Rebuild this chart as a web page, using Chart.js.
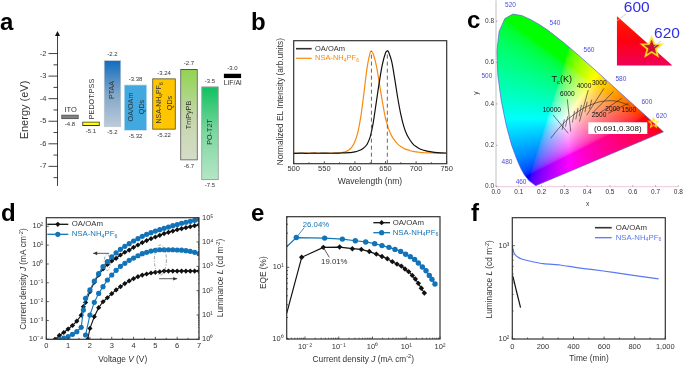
<!DOCTYPE html>
<html>
<head>
<meta charset="utf-8">
<title>Device panels</title>
<script src="https://cdn.jsdelivr.net/npm/chart.js@4/dist/chart.umd.min.js"></script>
<style>
  html, body { margin: 0; padding: 0; background: #fff; }
  #page { position: relative; width: 685px; height: 365px; overflow: hidden; }
  #page canvas { position: absolute; left: 0; top: 0; }
</style>
</head>
<body>
<div id="page"></div>
<script>
/* ==================== Panel a: energy levels ==================== */
const bandNames = ['ITO', 'PEDOT:PSS', 'PTAA', 'OA/OAm QDs', 'NSA-NH4PF6 QDs', 'TmPyPB', 'PO-T2T', 'LiF/Al'];
const bandTop = [-4.72, -5.03, -2.3, -3.37, -3.11, -2.7, -3.46, -2.9];
const bandBottom = [-4.9, -5.2, -5.25, -5.42, -5.36, -6.73, -7.6, -3.08];
const bandTopLabels = ['', '', '-2.2', '-3.38', '-3.24', '-2.7', '-3.5', '-3.0'];
const bandBottomLabels = ['-4.8', '-5.1', '-5.2', '-5.32', '-5.22', '-6.7', '-7.5', ''];

/* ==================== Panel b: EL spectra ==================== */
const elWavelengths = [500, 510, 520, 530, 540, 550, 560, 570, 575, 580, 585, 590, 595, 600, 605, 610, 615, 620, 625, 627, 630, 635, 640, 645, 650, 653, 655, 660, 665, 670, 675, 680, 685, 690, 695, 700, 705, 710, 715, 720, 730, 740, 750];
const elOaOam = [-0.002, 0.002, -0.001, 0.001, 0, 0.001, 0, 0.001, 0.002, 0.003, 0.004, 0.006, 0.009, 0.014, 0.022, 0.034, 0.055, 0.088, 0.16, 0.21, 0.3, 0.5, 0.7, 0.87, 0.98, 1, 0.99, 0.9, 0.73, 0.54, 0.38, 0.26, 0.18, 0.13, 0.09, 0.065, 0.047, 0.034, 0.025, 0.018, 0.009, 0.004, 0.002];
const elNsa = [0.002, -0.002, 0.002, 0, 0.001, -0.001, 0.001, 0.002, 0.004, 0.008, 0.016, 0.032, 0.06, 0.115, 0.21, 0.37, 0.6, 0.84, 0.985, 1, 0.97, 0.86, 0.68, 0.5, 0.34, 0.28, 0.24, 0.17, 0.125, 0.09, 0.065, 0.048, 0.035, 0.026, 0.018, 0.013, 0.01, 0.007, 0.005, 0.004, 0.002, 0.001, 0];
const elPeaks = [627, 653];

/* ==================== Panel c: CIE 1931 ==================== */
const locusX = [0.1741, 0.144, 0.1241, 0.1096, 0.0913, 0.0687, 0.0454, 0.0235, 0.0082, 0.0039, 0.0139, 0.0389, 0.0743, 0.1142, 0.1547, 0.1929, 0.2296, 0.3016, 0.3731, 0.4441, 0.5125, 0.5752, 0.627, 0.6658, 0.6915, 0.7079, 0.726, 0.7347, 0.1741];
const locusY = [0.005, 0.0297, 0.0578, 0.0868, 0.1327, 0.2007, 0.295, 0.4127, 0.5384, 0.6548, 0.7502, 0.812, 0.8338, 0.8262, 0.8059, 0.7816, 0.7543, 0.6923, 0.6245, 0.5547, 0.4866, 0.4242, 0.3725, 0.334, 0.3083, 0.292, 0.274, 0.2653, 0.005];
const planckX = [0.24, 0.2807, 0.3221, 0.3804, 0.4369, 0.477, 0.5267, 0.5857];
const planckY = [0.234, 0.2884, 0.3318, 0.3768, 0.4041, 0.4137, 0.4133, 0.3931];
const isothermX = [[0.251, 0.317], [0.313, 0.328], [0.405, 0.366], [0.474, 0.398], [0.515, 0.423], [0.552, 0.456], [0.581, 0.493]];
const isothermY = [[0.346, 0.258], [0.422, 0.266], [0.467, 0.314], [0.475, 0.346], [0.459, 0.355], [0.427, 0.357], [0.403, 0.355]];
const planckTickX = [[0.29, 0.3], [0.305, 0.315], [0.335, 0.345], [0.35, 0.36], [0.365, 0.375], [0.39, 0.4], [0.41, 0.42]];
const planckTickY = [[0.275, 0.325], [0.29, 0.34], [0.31, 0.365], [0.325, 0.38], [0.34, 0.395], [0.36, 0.41], [0.375, 0.42]];
const tcLabels = ['10000', '6000', '4000', '3000', '2500', '2000', '1500'];
const wavelengthLabels = ['520', '540', '560', '580', '600', '620', '500', '480', '460'];
const cieCoordinate = [0.691, 0.308];

/* ==================== Panel d: J-V-L ==================== */
const oaVoltageJ = [0.4, 0.6, 0.8, 1, 1.2, 1.4, 1.6, 1.7, 1.8, 2, 2.2, 2.4, 2.6, 2.8, 3, 3.2, 3.4, 3.6, 3.8, 4, 4.2, 4.4, 4.6, 4.8, 5, 5.2, 5.4, 5.6, 5.8, 6, 6.2, 6.4, 6.6, 6.8, 7];
const oaCurrent = [1e-4, 1.6e-4, 2.3e-4, 3.5e-4, 5.4e-4, 9.3e-4, 1.9e-3, 5.4e-3, 9.1e-3, 3.4e-2, 0.107, 0.26, 0.54, 0.95, 1.45, 2, 3, 4.2, 5.5, 7.7, 10.2, 13.6, 17.4, 22, 27, 33, 41, 48, 56, 66, 75, 85, 96, 108, 122];
const nsaVoltageJ = [0.6, 0.8, 1, 1.2, 1.4, 1.6, 1.7, 1.8, 2, 2.2, 2.4, 2.6, 2.8, 3, 3.2, 3.4, 3.6, 3.8, 4, 4.2, 4.4, 4.6, 4.8, 5, 5.2, 5.4, 5.6, 5.8, 6, 6.2, 6.4, 6.6, 6.8, 7];
const nsaCurrent = [1e-4, 1.15e-4, 1.39e-4, 1.84e-4, 2.55e-4, 4.3e-4, 3.6e-3, 1.5e-2, 4.2e-2, 0.125, 0.307, 0.72, 1.33, 2.36, 3.84, 6, 8.7, 12, 16.6, 22, 29.5, 37.6, 46, 56, 66, 78, 91, 108, 123, 145, 164, 184, 208, 234];
const oaVoltageL = [1.9, 2, 2.2, 2.4, 2.6, 2.8, 3, 3.2, 3.4, 3.6, 3.8, 4, 4.2, 4.4, 4.6, 4.8, 5, 5.2, 5.4, 5.6, 5.8, 6, 6.2, 6.4, 6.6, 6.8, 7];
const oaLuminance = [1, 2.8, 8.5, 20, 35, 51, 75, 107, 146, 195, 251, 310, 376, 437, 484, 532, 565, 600, 636, 638, 640, 640, 640, 640, 640, 640, 640];
const nsaVoltageL = [1.8, 2, 2.2, 2.4, 2.6, 2.8, 3, 3.2, 3.4, 3.6, 3.8, 4, 4.2, 4.4, 4.6, 4.8, 5, 5.2, 5.4, 5.6, 5.8, 6, 6.2, 6.4, 6.6, 6.8, 7];
const nsaLuminance = [1.5, 10, 33, 77, 146, 274, 440, 685, 1000, 1330, 1770, 2190, 2730, 3330, 3760, 4260, 4570, 4800, 4800, 4800, 4800, 4700, 4600, 4400, 4150, 3760, 3330];

/* ==================== Panel e: EQE ==================== */
const oaEqeJ = [2.87e-3, 7.97e-3, 0.0349, 0.106, 0.253, 0.467, 0.805, 1.3, 1.91, 2.75, 3.87, 5.32, 7.14, 9.18, 11.8, 15.1, 18.6, 22.8, 28, 34.4];
const oaEqe = [2.28, 13.8, 19.01, 19.2, 18.2, 17.8, 16.6, 15.3, 14.2, 13.2, 12, 11.1, 10.4, 9.48, 8.71, 7.72, 6.87, 5.98, 5.1, 4.38];
const nsaEqeJ = [2.87e-3, 5.53e-3, 0.0383, 0.128, 0.31, 0.628, 1.16, 1.91, 3.08, 4.64, 6.84, 9.62, 13.2, 17.7, 22.8, 30, 38.5, 48.3, 57.9, 71];
const nsaEqe = [19.4, 26.04, 25.6, 24.8, 23.5, 22.6, 21.4, 20.1, 19, 17.8, 16.7, 15.2, 14.1, 12.9, 11.5, 10.1, 8.98, 7.72, 6.8, 5.85];

/* ==================== Panel f: lifetime ==================== */
const oaTime = [0, 6, 28, 54];
const oaDecay = [485, 454, 321, 217];
const nsaTime = [0, 6.5, 17, 33, 61, 105, 203, 312, 410, 529, 660, 791, 956];
const nsaDecay = [1000, 877, 807, 762, 720, 690, 641, 621, 586, 553, 518, 481, 440];

/* ==================== Layout and styling ==================== */
const W = 685;
const H = 365;
const FONT = '"Liberation Sans", Arial, sans-serif';
const TEXT = '#333333';
const OA_BLACK = '#111111';
const NSA_BLUE = '#1274b8';
const NSA_ORANGE = '#f98a10';
const LIFE_BLUE = '#5a78f5';
const WL_BLUE = '#4a4ae0';

const AREA_A = { l: 57.5, t: 31, r: 245, b: 186 };
const AREA_B = { l: 293.7, t: 40.7, r: 446.7, b: 163.7 };
const AREA_C = { l: 496, t: 0.4, r: 678.3, b: 186.7 };
const AREA_D = { l: 46.3, t: 217.7, r: 199, b: 339.3 };
const AREA_E = { l: 286.7, t: 216.7, r: 440, b: 339 };
const AREA_F = { l: 512.3, t: 217.7, r: 665.3, b: 339 };

// horizontal placement of the energy bands, from the axis line
const BAND_CENTRES = [12.5, 33.5, 55, 78, 106.5, 131.5, 152.5, 175];
const BAND_WIDTHS = [17, 17, 17, 23, 23, 17, 17, 17];
const BAND_STROKES = ['#555555', '#333333', '#c4ccd4', '#d6e6f0', '#5a4a10', '#555555', '#8a9a90', '#000000'];
const BAND_FILLS = [
    ['#808080', '#808080'],
    ['#ffff00', '#ffff00'],
    ['#0f6cc0', '#7fa6c8', '#bccbda'],
    ['#41a9e0', '#41a9e0'],
    ['#ffc600', '#ffc600'],
    ['#8fd44f', '#c3d6a8', '#d6dcc8'],
    ['#0fc060', '#7dd8a0', '#b6e6c6'],
    ['#000000', '#000000']
];

/* ==================== Helpers ==================== */
function pairs(xs, ys) {
    return xs.map((x, i) => ({ x, y: ys[i] }));
}

function superscript(n) {
    const map = { '-': '\u207b', 0: '\u2070', 1: '\u00b9', 2: '\u00b2', 3: '\u00b3', 4: '\u2074', 5: '\u2075' };
    return String(n).split('').map(c => map[c]).join('');
}

function decadeLabel(value) {
    const e = Math.log10(value);
    return Math.abs(e - Math.round(e)) < 1e-6 ? '10' + superscript(Math.round(e)) : '';
}

function logMinors(fromExp, toExp) {
    const out = [];
    for (let e = fromExp; e <= toExp; e++) {
        for (let m = 2; m <= 9; m++) out.push(m * Math.pow(10, e));
    }
    return out;
}

function decades(fromExp, toExp) {
    const out = [];
    for (let e = fromExp; e <= toExp; e++) out.push(Math.pow(10, e));
    return out;
}

function range(from, to, step) {
    const out = [];
    for (let v = from; v <= to + 1e-9; v += step) out.push(v);
    return out;
}

function makeCanvas() {
    const canvas = document.createElement('canvas');
    canvas.width = W;
    canvas.height = H;
    document.getElementById('page').appendChild(canvas);
    return canvas;
}

function baseOptions(area, hasBottom, hasRight) {
    return {
        responsive: false,
        animation: false,
        events: [],
        layout: {
            autoPadding: false,
            padding: {
                left: 0,
                top: area.t,
                right: hasRight ? 0 : W - area.r,
                bottom: hasBottom ? 0 : H - area.b
            }
        },
        plugins: { legend: { display: false }, tooltip: { enabled: false } }
    };
}

function clearScalePadding(s) {
    s.paddingTop = 0;
    s.paddingBottom = 0;
    s.paddingLeft = 0;
    s.paddingRight = 0;
}

// axes get the whole margin as their box, so the plot area lands on the given rectangle
function leftAxis(area, extra) {
    return Object.assign({
        position: 'left',
        grid: { display: false, drawTicks: false },
        border: { display: false },
        afterFit: s => { s.width = area.l; clearScalePadding(s); }
    }, extra);
}

function rightAxis(area, extra) {
    return Object.assign({
        position: 'right',
        grid: { display: false, drawTicks: false },
        border: { display: false },
        afterFit: s => { s.width = W - area.r; clearScalePadding(s); }
    }, extra);
}

function bottomAxis(area, extra) {
    return Object.assign({
        position: 'bottom',
        grid: { display: false, drawTicks: false },
        border: { display: false },
        afterFit: s => { s.height = H - area.b; clearScalePadding(s); }
    }, extra);
}

function fontOf(size, style) {
    return (style === 'i' ? 'italic ' : '') + (style === 'b' ? 'bold ' : '') + size + 'px ' + FONT;
}

// text with italic, superscript and subscript runs
function richText(ctx, parts, x, y, opts) {
    const o = Object.assign({ size: 8.5, color: TEXT, align: 'center', rotate: 0 }, opts);
    const runs = parts.map(p => (typeof p === 'string' ? [p, ''] : p));
    let total = 0;
    const widths = runs.map(r => {
        const small = r[1] === 'sup' || r[1] === 'sub';
        ctx.font = fontOf(small ? o.size * 0.68 : o.size, r[1]);
        const w = ctx.measureText(r[0]).width;
        total += w;
        return w;
    });
    ctx.save();
    ctx.translate(x, y);
    ctx.rotate(o.rotate);
    ctx.fillStyle = o.color;
    ctx.textBaseline = 'middle';
    ctx.textAlign = 'left';
    let cx = o.align === 'center' ? -total / 2 : (o.align === 'right' ? -total : 0);
    runs.forEach((r, i) => {
        const small = r[1] === 'sup' || r[1] === 'sub';
        ctx.font = fontOf(small ? o.size * 0.68 : o.size, r[1]);
        const dy = r[1] === 'sup' ? -o.size * 0.3 : (r[1] === 'sub' ? o.size * 0.28 : 0);
        ctx.fillText(r[0], cx, dy);
        cx += widths[i];
    });
    ctx.restore();
}

function drawFrame(ctx, chart, color, width) {
    const a = chart.chartArea;
    ctx.save();
    ctx.strokeStyle = color;
    ctx.lineWidth = width;
    ctx.strokeRect(a.left, a.top, a.right - a.left, a.bottom - a.top);
    ctx.restore();
}

// tick marks pointing into the plot (negative length points outward)
function drawTicks(ctx, scale, values, length, color) {
    ctx.save();
    ctx.strokeStyle = color || TEXT;
    ctx.lineWidth = 0.8;
    ctx.beginPath();
    values.forEach(v => {
        if (v < scale.min || v > scale.max) return;
        const p = scale.getPixelForValue(v);
        if (scale.axis === 'x') {
            ctx.moveTo(p, scale.top);
            ctx.lineTo(p, scale.top - length);
        } else if (scale.position === 'right') {
            ctx.moveTo(scale.left, p);
            ctx.lineTo(scale.left - length, p);
        } else {
            ctx.moveTo(scale.right, p);
            ctx.lineTo(scale.right + length, p);
        }
    });
    ctx.stroke();
    ctx.restore();
}

function marker(ctx, kind, x, y, r, color) {
    ctx.fillStyle = color;
    ctx.beginPath();
    if (kind === 'diamond') {
        ctx.moveTo(x, y - r);
        ctx.lineTo(x + r, y);
        ctx.lineTo(x, y + r);
        ctx.lineTo(x - r, y);
        ctx.closePath();
    } else if (kind === 'circle') {
        ctx.arc(x, y, r, 0, Math.PI * 2);
    }
    ctx.fill();
}

function legendRow(ctx, row) {
    ctx.save();
    ctx.strokeStyle = row.color;
    ctx.lineWidth = row.lineWidth || 1.3;
    ctx.beginPath();
    ctx.moveTo(row.x1, row.y);
    ctx.lineTo(row.x2, row.y);
    ctx.stroke();
    if (row.marker) marker(ctx, row.marker, (row.x1 + row.x2) / 2, row.y, 2.6, row.color);
    ctx.restore();
    richText(ctx, row.text, row.textX, row.y, { size: row.size || 8.3, color: row.textColor, align: 'left' });
}

function leader(ctx, x1, y1, x2, y2, color) {
    ctx.save();
    ctx.strokeStyle = color;
    ctx.lineWidth = 0.8;
    ctx.beginPath();
    ctx.moveTo(x1, y1);
    ctx.lineTo(x2, y2);
    ctx.stroke();
    ctx.restore();
}

function arrow(ctx, x1, x2, y, color) {
    leader(ctx, x1, y, x2, y, color);
    const dir = x2 > x1 ? 1 : -1;
    ctx.fillStyle = color;
    ctx.beginPath();
    ctx.moveTo(x2, y);
    ctx.lineTo(x2 - dir * 4, y - 1.8);
    ctx.lineTo(x2 - dir * 4, y + 1.8);
    ctx.closePath();
    ctx.fill();
}

function dashedEllipse(ctx, x, y, rx, ry) {
    ctx.save();
    ctx.strokeStyle = '#777777';
    ctx.lineWidth = 0.7;
    ctx.setLineDash([3, 1.5, 1, 1.5]);
    ctx.beginPath();
    ctx.ellipse(x, y, rx, ry, 0, 0, Math.PI * 2);
    ctx.stroke();
    ctx.restore();
}

function panelLetter(ctx, letter, x, baseline) {
    ctx.save();
    ctx.fillStyle = '#000';
    ctx.font = 'bold 24px ' + FONT;
    ctx.textAlign = 'left';
    ctx.textBaseline = 'alphabetic';
    ctx.fillText(letter, x, baseline);
    ctx.restore();
}

function starImage(outer, lineWidth, fill) {
    const size = Math.ceil(outer * 2 + lineWidth * 2 + 2);
    const c = document.createElement('canvas');
    c.width = size;
    c.height = size;
    const ctx = c.getContext('2d');
    ctx.translate(size / 2, size / 2);
    ctx.beginPath();
    for (let i = 0; i < 10; i++) {
        const r = i % 2 === 0 ? outer : outer * 0.42;
        const t = -Math.PI / 2 + i * Math.PI / 5;
        ctx[i === 0 ? 'moveTo' : 'lineTo'](r * Math.cos(t), r * Math.sin(t));
    }
    ctx.closePath();
    if (fill) {
        ctx.fillStyle = fill;
        ctx.fill();
    }
    ctx.strokeStyle = '#ffe81a';
    ctx.lineWidth = lineWidth;
    ctx.stroke();
    return c;
}

/* ==================== Panel a ==================== */
function createBandChart() {
    const bandGradient = (ctx, i) => {
        const stops = BAND_FILLS[i];
        const y = ctx.chart.scales.y;
        if (!ctx.chart.chartArea || !y) return stops[0];
        const g = ctx.chart.ctx.createLinearGradient(0, y.getPixelForValue(bandTop[i]), 0, y.getPixelForValue(bandBottom[i]));
        stops.forEach((s, k) => g.addColorStop(k / (stops.length - 1), s));
        return g;
    };

    const options = baseOptions(AREA_A, false, false);
    options.scales = {
        x: { type: 'linear', display: false, stacked: true, offset: false, min: 0, max: AREA_A.r - AREA_A.l },
        y: leftAxis(AREA_A, {
            type: 'linear',
            min: -7.87,
            max: -1,
            ticks: {
                color: TEXT,
                font: { family: FONT, size: 7.5 },
                padding: 11,
                stepSize: 1,
                autoSkip: false,
                callback: v => (Number.isInteger(v) && v < -1.5 ? String(v) : '')
            }
        })
    };

    new Chart(makeCanvas(), {
        type: 'bar',
        data: {
            datasets: bandNames.map((name, i) => ({
                label: name,
                data: [{ x: BAND_CENTRES[i], y: [bandBottom[i], bandTop[i]] }],
                barThickness: BAND_WIDTHS[i],
                backgroundColor: ctx => bandGradient(ctx, i),
                borderColor: BAND_STROKES[i],
                borderWidth: 1,
                borderSkipped: false
            }))
        },
        options,
        plugins: [{
            id: 'bandDecor',
            afterDraw(chart) {
                const ctx = chart.ctx;
                const x = chart.scales.x;
                const y = chart.scales.y;
                const ax = chart.chartArea.left;

                // axis with arrow head
                ctx.fillStyle = '#111';
                ctx.beginPath();
                ctx.moveTo(ax, chart.chartArea.top);
                ctx.lineTo(ax - 2.5, chart.chartArea.top + 5);
                ctx.lineTo(ax + 2.5, chart.chartArea.top + 5);
                ctx.closePath();
                ctx.fill();
                leader(ctx, ax, chart.chartArea.top + 1, ax, chart.chartArea.bottom, '#111');
                drawTicks(ctx, y, range(-7, -2, 1), -9, '#111');
                drawTicks(ctx, y, range(-7.5, -2.5, 1), -4, '#111');

                // level values
                bandNames.forEach((name, i) => {
                    const cx = x.getPixelForValue(BAND_CENTRES[i]);
                    if (bandTopLabels[i]) {
                        richText(ctx, [bandTopLabels[i]], cx, y.getPixelForValue(bandTop[i]) - 5.6, { size: 6 });
                    }
                    if (bandBottomLabels[i]) {
                        richText(ctx, [bandBottomLabels[i]], cx, y.getPixelForValue(bandBottom[i]) + 5.6, { size: 6 });
                    }
                });

                // material names
                const up = -Math.PI / 2;
                richText(ctx, ['ITO'], 70.7, 110, { size: 7.5 });
                richText(ctx, ['PEDOT:PSS'], 92, 99, { size: 7.2, rotate: up });
                richText(ctx, ['PTAA'], 112.3, 90, { size: 7.2, rotate: up });
                richText(ctx, ['OA/OAm'], 130.7, 107, { size: 7.2, rotate: up });
                richText(ctx, ['QDs'], 141.7, 107, { size: 7.2, rotate: up });
                richText(ctx, ['NSA-NH', ['4', 'sub'], 'PF', ['6', 'sub']], 159.3, 103, { size: 7, rotate: up });
                richText(ctx, ['QDs'], 170, 103, { size: 7.2, rotate: up });
                richText(ctx, ['TmPyPB'], 189.3, 115, { size: 7.2, rotate: up });
                richText(ctx, ['PO-T2T'], 210, 132, { size: 7.2, rotate: up });
                richText(ctx, ['LiF/Al'], 232.7, 83, { size: 7 });

                richText(ctx, ['Energy (eV)'], 25, 110, { size: 11, rotate: up });
                panelLetter(ctx, 'a', 0, 30);
            }
        }]
    });
}

/* ==================== Panel b ==================== */
function createSpectraChart() {
    const options = baseOptions(AREA_B, true, false);
    options.scales = {
        x: bottomAxis(AREA_B, { type: 'linear', min: 500, max: 750, ticks: { color: TEXT, font: { family: FONT, size: 7.5 }, padding: 1, stepSize: 50, autoSkip: false, maxRotation: 0 } }),
        y: leftAxis(AREA_B, { type: 'linear', min: -0.102, max: 1.1, ticks: { display: false } })
    };

    const peakLines = elPeaks.map(p => ({
        data: [{ x: p, y: -0.102 }, { x: p, y: 1 }],
        showLine: true,
        borderColor: '#555555',
        borderWidth: 0.9,
        borderDash: [4, 3],
        pointRadius: 0
    }));

    new Chart(makeCanvas(), {
        type: 'scatter',
        data: {
            datasets: peakLines.concat([
                { label: 'OA/OAm', data: pairs(elWavelengths, elOaOam), showLine: true, tension: 0.3, borderColor: OA_BLACK, borderWidth: 1.2, pointRadius: 0 },
                { label: 'NSA-NH4PF6', data: pairs(elWavelengths, elNsa), showLine: true, tension: 0.3, borderColor: NSA_ORANGE, borderWidth: 1.2, pointRadius: 0 }
            ])
        },
        options,
        plugins: [{
            id: 'spectraDecor',
            afterDraw(chart) {
                const ctx = chart.ctx;
                drawFrame(ctx, chart, '#333333', 1.2);
                drawTicks(ctx, chart.scales.x, range(500, 750, 50), 2.5);
                drawTicks(ctx, chart.scales.x, range(525, 725, 50), 1.5);
                legendRow(ctx, { x1: 296, x2: 311.7, y: 48.7, color: '#333333', lineWidth: 1.6, text: ['OA/OAm'], textX: 315, textColor: TEXT, size: 7.5 });
                legendRow(ctx, { x1: 296, x2: 311.7, y: 58.3, color: NSA_ORANGE, lineWidth: 1.2, text: ['NSA-NH', ['4', 'sub'], 'PF', ['6', 'sub']], textX: 315, textColor: NSA_ORANGE, size: 7.5 });
                richText(ctx, ['Wavelength (nm)'], 370, 181.3, { size: 8.5 });
                richText(ctx, ['Normalized EL Intensity (arb.units)'], 281, 101.7, { size: 8.3, rotate: -Math.PI / 2 });
                panelLetter(ctx, 'b', 251, 30);
            }
        }]
    });
}

/* ==================== Panel c ==================== */
function chromaticityColor(x, y) {
    const X = x / y;
    const Z = (1 - x - y) / y;
    let r = 3.2406 * X - 1.5372 - 0.4986 * Z;
    let g = -0.9689 * X + 1.8758 + 0.0415 * Z;
    let b = 0.0557 * X - 0.204 + 1.057 * Z;
    r = Math.max(r, 0);
    g = Math.max(g, 0);
    b = Math.max(b, 0);
    const m = Math.max(r, g, b) || 1;
    return [r, g, b].map(c => 255 * Math.pow(c / m, 1 / 2.2));
}

function paintHorseshoe(chart) {
    const a = chart.chartArea;
    const x = chart.scales.x;
    const y = chart.scales.y;
    const w = Math.ceil(a.right - a.left);
    const h = Math.ceil(a.bottom - a.top);
    const off = document.createElement('canvas');
    off.width = w;
    off.height = h;
    const octx = off.getContext('2d');
    const img = octx.createImageData(w, h);
    for (let j = 0; j < h; j++) {
        const vy = Math.max(y.getValueForPixel(a.top + j + 0.5), 0.001);
        for (let i = 0; i < w; i++) {
            const vx = x.getValueForPixel(a.left + i + 0.5);
            const c = chromaticityColor(vx, vy);
            const k = (j * w + i) * 4;
            img.data[k] = c[0];
            img.data[k + 1] = c[1];
            img.data[k + 2] = c[2];
            img.data[k + 3] = 255;
        }
    }
    octx.putImageData(img, 0, 0);

    const ctx = chart.ctx;
    ctx.save();
    ctx.beginPath();
    locusX.forEach((lx, i) => {
        ctx[i === 0 ? 'moveTo' : 'lineTo'](x.getPixelForValue(lx), y.getPixelForValue(locusY[i]));
    });
    ctx.closePath();
    ctx.clip();
    ctx.drawImage(off, a.left, a.top);
    ctx.restore();
}

function createCieChart() {
    const options = baseOptions(AREA_C, true, false);
    const tickFormatY = v => (Math.round(v * 10) % 2 === 0 && v <= 0.8 + 1e-6 ? v.toFixed(1) : '');
    const tickFormatX = v => v.toFixed(1);
    options.scales = {
        x: bottomAxis(AREA_C, { type: 'linear', min: 0, max: 0.8, ticks: { color: TEXT, font: { family: FONT, size: 6.5 }, padding: 2, stepSize: 0.1, autoSkip: false, maxRotation: 0, callback: tickFormatX } }),
        y: leftAxis(AREA_C, { type: 'linear', min: 0, max: 0.9, ticks: { color: TEXT, font: { family: FONT, size: 6.5 }, padding: 2, stepSize: 0.2, autoSkip: false, callback: tickFormatY } })
    };

    const thinLine = (xs, ys) => ({
        data: pairs(xs, ys),
        showLine: true,
        borderColor: '#222222',
        borderWidth: 0.6,
        pointRadius: 0
    });

    // earlier datasets paint last, so the stars go first
    const datasets = [];
    datasets.push({ data: [{ x: cieCoordinate[0], y: cieCoordinate[1] }], pointStyle: starImage(5, 1.1, null), pointRadius: 5, clip: false });
    datasets.push({ data: [{ x: 0.683, y: 0.672 }], pointStyle: starImage(10.5, 1.6, '#c81030'), pointRadius: 10, clip: false });

    // zoomed inset of the red corner
    datasets.push({
        data: [{ x: 0.53, y: 0.825 }, { x: 0.774, y: 0.585 }],
        showLine: true,
        borderWidth: 0,
        pointRadius: 0,
        fill: { value: 0.585 },
        backgroundColor: ctx => {
            const area = ctx.chart.chartArea;
            if (!area) return '#ff0000';
            const g = ctx.chart.ctx.createLinearGradient(0, 16, 0, 65.3);
            g.addColorStop(0, '#ff2000');
            g.addColorStop(0.5, '#ff0010');
            g.addColorStop(1, '#f00058');
            return g;
        },
        clip: false
    });
    datasets.push(Object.assign(thinLine(planckX, planckY), { tension: 0.4 }));
    isothermX.forEach((xs, i) => datasets.push(thinLine(xs, isothermY[i])));
    planckTickX.forEach((xs, i) => datasets.push(thinLine(xs, planckTickY[i])));
    datasets.push({ data: pairs(locusX, locusY), showLine: true, borderColor: '#5a5ad0', borderWidth: 0.7, pointRadius: 0 });

    new Chart(makeCanvas(), {
        type: 'scatter',
        data: { datasets },
        options,
        plugins: [{
            id: 'cieDecor',
            beforeDatasetsDraw(chart) {
                paintHorseshoe(chart);
            },
            afterDraw(chart) {
                const ctx = chart.ctx;
                const x = chart.scales.x;
                const y = chart.scales.y;
                const a = chart.chartArea;

                leader(ctx, a.left, a.top, a.left, a.bottom, '#b0b0b0');
                leader(ctx, a.left, a.bottom, a.right, a.bottom, '#e8b8d8');
                drawTicks(ctx, x, range(0, 0.8, 0.1), 1.5, '#999999');
                drawTicks(ctx, y, range(0, 0.8, 0.2), 1.5, '#999999');

                // wavelength marks on the locus
                const wlX = [0.0636, 0.259, 0.408, 0.548, 0.662, 0.726, -0.04, 0.048, 0.11];
                const wlY = [0.878, 0.791, 0.658, 0.518, 0.409, 0.341, 0.533, 0.119, 0.022];
                wavelengthLabels.forEach((t, i) => {
                    richText(ctx, [t], x.getPixelForValue(wlX[i]), y.getPixelForValue(wlY[i]), { size: 6.5, color: WL_BLUE });
                });

                // colour temperature labels
                const tcX = [0.245, 0.313, 0.386, 0.453, 0.452, 0.512, 0.583];
                const tcY = [0.372, 0.446, 0.486, 0.5, 0.345, 0.374, 0.369];
                tcLabels.forEach((t, i) => {
                    richText(ctx, [t], x.getPixelForValue(tcX[i]), y.getPixelForValue(tcY[i]), { size: 6.6, color: '#111111' });
                });
                richText(ctx, ['T', ['c', 'sub'], '(K)'], 561.7, 80, { size: 9, color: '#111111' });

                // coordinate box
                ctx.fillStyle = '#ffffff';
                ctx.fillRect(588.3, 122.3, 59, 11.7);
                richText(ctx, ['(' + cieCoordinate[0].toFixed(3) + ',' + cieCoordinate[1].toFixed(3) + ')'], 617.8, 128.4, { size: 8, color: '#111111' });

                // inset labels
                leader(ctx, 616.7, 21, 626, 14, '#c8c8c8');
                leader(ctx, 654, 47, 661, 41, '#c8c8c8');
                richText(ctx, ['600'], 636.7, 7.5, { size: 15.5, color: '#2f2fe8' });
                richText(ctx, ['620'], 667, 34, { size: 15.5, color: '#2f2fe8' });

                richText(ctx, ['x'], 587.5, 204, { size: 6.5 });
                richText(ctx, ['y'], 476, 93, { size: 6.5, rotate: -Math.PI / 2 });
                panelLetter(ctx, 'c', 467, 28);
            }
        }]
    });
}

/* ==================== Panel d ==================== */
function createJvlChart() {
    const options = baseOptions(AREA_D, true, true);
    const logTicks = pad => ({ color: TEXT, font: { family: FONT, size: 7.5 }, padding: pad, autoSkip: false, maxRotation: 0, includeBounds: false, callback: decadeLabel });
    options.scales = {
        x: bottomAxis(AREA_D, { type: 'linear', min: 0, max: 7, ticks: { color: TEXT, font: { family: FONT, size: 7.5 }, padding: 2, stepSize: 1, autoSkip: false, maxRotation: 0 } }),
        y: leftAxis(AREA_D, { type: 'logarithmic', min: 1e-4, max: 286.4, ticks: logTicks(3) }),
        y2: rightAxis(AREA_D, { type: 'logarithmic', min: 1, max: 1e5, ticks: logTicks(3) })
    };

    const series = (xs, ys, color, style, axis) => ({
        data: pairs(xs, ys),
        yAxisID: axis,
        showLine: true,
        borderColor: color,
        borderWidth: 1.1,
        pointStyle: style,
        pointRadius: 2.6,
        pointBackgroundColor: color,
        pointBorderWidth: 0
    });

    new Chart(makeCanvas(), {
        type: 'scatter',
        data: {
            datasets: [
                series(nsaVoltageJ, nsaCurrent, NSA_BLUE, 'circle', 'y'),
                series(oaVoltageJ, oaCurrent, OA_BLACK, 'rectRot', 'y'),
                series(nsaVoltageL, nsaLuminance, NSA_BLUE, 'circle', 'y2'),
                series(oaVoltageL, oaLuminance, OA_BLACK, 'rectRot', 'y2')
            ]
        },
        options,
        plugins: [{
            id: 'jvlDecor',
            afterDraw(chart) {
                const ctx = chart.ctx;
                const s = chart.scales;
                drawFrame(ctx, chart, '#333333', 1.2);
                drawTicks(ctx, s.x, range(0, 7, 1), 2.5);
                drawTicks(ctx, s.x, range(0.5, 6.5, 1), 1.5);
                drawTicks(ctx, s.y, decades(-4, 2), 2.5);
                drawTicks(ctx, s.y2, decades(0, 5), 2.5);
                drawTicks(ctx, s.y2, logMinors(0, 4), 1);

                // arrows and ellipses marking which axis each family uses
                arrow(ctx, s.x.getPixelForValue(2.88), s.x.getPixelForValue(2.15), s.y.getPixelForValue(3.67), '#333333');
                arrow(ctx, s.x.getPixelForValue(5.17), s.x.getPixelForValue(6), s.y2.getPixelForValue(310), '#333333');
                dashedEllipse(ctx, s.x.getPixelForValue(2.79), s.y.getPixelForValue(1.2), 3, 8);
                dashedEllipse(ctx, s.x.getPixelForValue(5.23), s.y2.getPixelForValue(1820), 6, 15);

                legendRow(ctx, { x1: 47.3, x2: 68.3, y: 224.3, color: OA_BLACK, marker: 'diamond', text: ['OA/OAm'], textX: 71.7, textColor: TEXT, size: 7.8 });
                legendRow(ctx, { x1: 47.3, x2: 68.3, y: 234.3, color: NSA_BLUE, marker: 'circle', text: ['NSA-NH', ['4', 'sub'], 'PF', ['6', 'sub']], textX: 71.7, textColor: NSA_BLUE, size: 7.8 });

                richText(ctx, ['Current density ', ['J', 'i'], ' (mA cm', ['-2', 'sup'], ')'], 24, 279, { size: 8.3, rotate: -Math.PI / 2 });
                richText(ctx, ['Luminance ', ['L', 'i'], ' (cd m', ['-2', 'sup'], ')'], 221, 278, { size: 8.3, rotate: -Math.PI / 2 });
                richText(ctx, ['Voltage ', ['V', 'i'], ' (V)'], 122.7, 359.3, { size: 8.3 });
                panelLetter(ctx, 'd', 1, 221);
            }
        }]
    });
}

/* ==================== Panel e ==================== */
function createEqeChart() {
    const options = baseOptions(AREA_E, true, false);
    const logTicks = pad => ({ color: TEXT, font: { family: FONT, size: 7.5 }, padding: pad, autoSkip: false, maxRotation: 0, includeBounds: false, callback: decadeLabel });
    options.scales = {
        x: bottomAxis(AREA_E, { type: 'logarithmic', min: 2.87e-3, max: 100, ticks: logTicks(3) }),
        y: leftAxis(AREA_E, { type: 'logarithmic', min: 1, max: 50.9, ticks: logTicks(3) })
    };

    const series = (xs, ys, color, style) => ({
        data: pairs(xs, ys),
        showLine: true,
        borderColor: color,
        borderWidth: 1.2,
        pointStyle: style,
        pointRadius: ctx => (ctx.dataIndex === 0 ? 0 : 2.7),
        pointBackgroundColor: color,
        pointBorderWidth: 0
    });

    new Chart(makeCanvas(), {
        type: 'scatter',
        data: {
            datasets: [
                series(oaEqeJ, oaEqe, OA_BLACK, 'rectRot'),
                series(nsaEqeJ, nsaEqe, NSA_BLUE, 'circle')
            ]
        },
        options,
        plugins: [{
            id: 'eqeDecor',
            afterDraw(chart) {
                const ctx = chart.ctx;
                const s = chart.scales;
                drawFrame(ctx, chart, '#333333', 1.2);
                drawTicks(ctx, s.x, decades(-2, 2), 2.5);
                drawTicks(ctx, s.x, logMinors(-3, 1), 1.3);
                drawTicks(ctx, s.y, decades(0, 1), 2.5);
                drawTicks(ctx, s.y, logMinors(0, 1), 1.3);

                // peak callouts
                const nx = s.x.getPixelForValue(nsaEqeJ[1]);
                const ny = s.y.getPixelForValue(nsaEqe[1]);
                leader(ctx, nx, ny, nx + 8, ny - 10, NSA_BLUE);
                richText(ctx, ['26.04%'], 316, 224.5, { size: 7.8, color: NSA_BLUE });
                const ox = s.x.getPixelForValue(oaEqeJ[2]);
                const oy = s.y.getPixelForValue(oaEqe[2]);
                leader(ctx, ox, oy, ox + 6, oy + 10, '#333333');
                richText(ctx, ['19.01%'], 334.3, 262, { size: 7.8 });

                legendRow(ctx, { x1: 373.3, x2: 390, y: 222.7, color: OA_BLACK, marker: 'diamond', text: ['OA/OAm'], textX: 392.7, textColor: TEXT, size: 7.8 });
                legendRow(ctx, { x1: 373.3, x2: 390, y: 232.7, color: NSA_BLUE, marker: 'circle', text: ['NSA-NH', ['4', 'sub'], 'PF', ['6', 'sub']], textX: 392.7, textColor: NSA_BLUE, size: 7.8 });

                richText(ctx, ['EQE (%)'], 263.3, 272.7, { size: 8.3, rotate: -Math.PI / 2 });
                richText(ctx, ['Current density ', ['J', 'i'], ' (mA cm', ['-2', 'sup'], ')'], 363.3, 359.3, { size: 8.3 });
                panelLetter(ctx, 'e', 251, 221);
            }
        }]
    });
}

/* ==================== Panel f ==================== */
function createLifetimeChart() {
    const options = baseOptions(AREA_F, true, false);
    options.scales = {
        x: bottomAxis(AREA_F, { type: 'linear', min: 0, max: 1000, ticks: { color: TEXT, font: { family: FONT, size: 7.5 }, padding: 3, stepSize: 200, autoSkip: false, maxRotation: 0 } }),
        y: leftAxis(AREA_F, { type: 'logarithmic', min: 100, max: 1995, ticks: { color: TEXT, font: { family: FONT, size: 7.5 }, padding: 3, autoSkip: false, includeBounds: false, callback: decadeLabel } })
    };

    new Chart(makeCanvas(), {
        type: 'scatter',
        data: {
            datasets: [
                { data: pairs(oaTime, oaDecay), showLine: true, borderColor: OA_BLACK, borderWidth: 1.2, pointRadius: 0 },
                { data: pairs(nsaTime, nsaDecay), showLine: true, tension: 0.2, borderColor: LIFE_BLUE, borderWidth: 1.2, pointRadius: 0 }
            ]
        },
        options,
        plugins: [{
            id: 'lifetimeDecor',
            afterDraw(chart) {
                const ctx = chart.ctx;
                const s = chart.scales;
                drawFrame(ctx, chart, '#333333', 1.2);
                drawTicks(ctx, s.x, range(0, 1000, 200), 2.5);
                drawTicks(ctx, s.x, range(100, 900, 200), 1.5);
                drawTicks(ctx, s.y, decades(2, 3), 2.5);
                drawTicks(ctx, s.y, logMinors(2, 3), 1.3);

                legendRow(ctx, { x1: 595, x2: 611.7, y: 227.7, color: '#333333', lineWidth: 1.6, text: ['OA/OAm'], textX: 615.7, textColor: TEXT, size: 7.8 });
                legendRow(ctx, { x1: 595, x2: 611.7, y: 237.7, color: LIFE_BLUE, text: ['NSA-NH', ['4', 'sub'], 'PF', ['6', 'sub']], textX: 615.7, textColor: LIFE_BLUE, size: 7.8 });

                richText(ctx, ['Luminance ', ['L', 'i'], ' (cd m', ['-2', 'sup'], ')'], 490, 279.3, { size: 8.3, rotate: -Math.PI / 2 });
                richText(ctx, ['Time (min)'], 589, 359, { size: 8.3 });
                panelLetter(ctx, 'f', 471, 221);
            }
        }]
    });
}

/* ==================== Build ==================== */
createBandChart();
createSpectraChart();
createCieChart();
createJvlChart();
createEqeChart();
createLifetimeChart();
</script>
</body>
</html>
